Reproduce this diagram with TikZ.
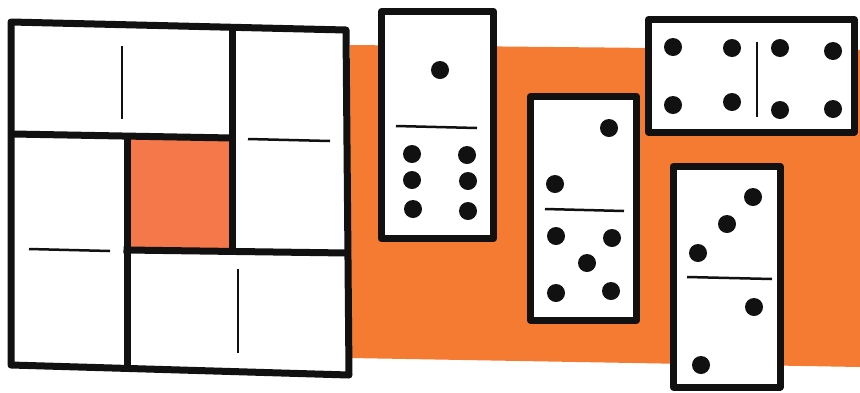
\documentclass[tikz,border=0pt]{standalone}
\definecolor{ink}{HTML}{111111}
\definecolor{band}{HTML}{F57A32}
\definecolor{centre}{HTML}{F5784A}
\tikzset{
  tile/.style={draw=ink, fill=white, line width=7pt, line join=round},
  frameline/.style={draw=ink, line width=7pt, line cap=rect},
  divider/.style={draw=ink, line width=2.5pt},
  pip/.style={fill=ink},
}
\begin{document}
\begin{tikzpicture}[x=1pt,y=-1pt]
\useasboundingbox (0,0) rectangle (860,392);
% orange band
\fill[band] (350,45) -- (860,50) -- (860,367) -- (350,358) -- cycle;
% big square
\fill[white] (11,22) -- (346,30) -- (349,375) -- (11,365) -- cycle;
\fill[centre] (127,137) rectangle (232,250);
\draw[frameline] (13,134) -- (232,138);
\draw[frameline] (232,28) -- (232,250);
\draw[frameline] (127,250) -- (347,253);
\draw[frameline] (127,137) -- (127,366);
\draw[tile,fill=none] (11,22) -- (346,30) -- (349,375) -- (11,365) -- cycle;
\draw[divider] (122,46) -- (122,119);
\draw[divider] (248,139) -- (330,141);
\draw[divider] (29,249) -- (110,251);
\draw[divider] (238,269) -- (238,353);
% domino 1|6
\draw[tile] (381.5,11.5) rectangle (493.5,238.5);
\draw[divider] (396,126) -- (477,128);
\foreach \p in {(440,70),(412,154),(412,180),(413,209),(467,155),(468,181),(468,211)}
  \fill[pip] \p circle (9);
% domino 2|5
\draw[tile] (530.5,96.5) rectangle (636.5,320);
\draw[divider] (545,209) -- (624,211);
\foreach \p in {(609,128),(555,184),(556,236),(612,238),(587,263),(556,293),(611,291)}
  \fill[pip] \p circle (9);
% domino 4|4
\draw[tile] (648.5,19.5) rectangle (854,132);
\draw[divider] (757,42) -- (757,117);
\foreach \p in {(673,47),(732,48),(673,105),(732,102),(780,48),(833,51),(780,110),(833,109)}
  \fill[pip] \p circle (9);
% domino 3|2
\draw[tile] (673.5,166.5) rectangle (780,387);
\draw[divider] (687,277) -- (772,279);
\foreach \p in {(753,197),(727,224),(698,253),(754,307),(701,365)}
  \fill[pip] \p circle (9);
\end{tikzpicture}
\end{document}
